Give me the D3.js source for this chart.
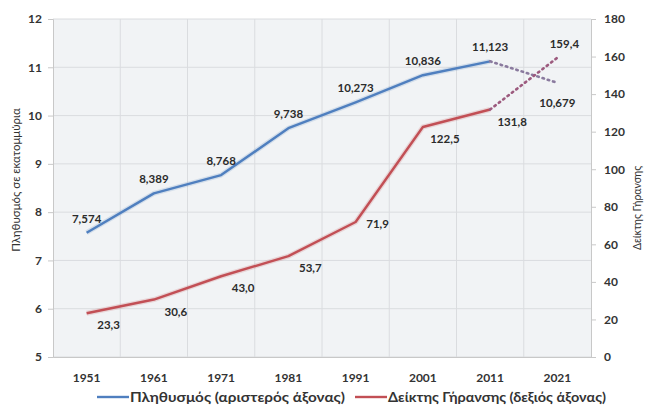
<!DOCTYPE html>
<html>
<head>
<meta charset="utf-8">
<script src="https://cdn.jsdelivr.net/npm/d3@7"></script>
<style>
  body { margin: 0; background: #fff; }
  text { font-family: Lato, "Open Sans", sans-serif; }
</style>
</head>
<body>
<div id="chart"></div>
<script>
// Data
const years = ["1951", "1961", "1971", "1981", "1991", "2001", "2011", "2021"];
const population = [7.574, 8.389, 8.768, 9.738, 10.273, 10.836, 11.123, 10.679];
const agingIndex = [23.3, 30.6, 43.0, 53.7, 71.9, 122.5, 131.8, 159.4];
const leftTicks = [5, 6, 7, 8, 9, 10, 11, 12];
const rightTicks = [0, 20, 40, 60, 80, 100, 120, 140, 160, 180];
const legendLabels = ["Πληθυσμός (αριστερός άξονας)", "Δείκτης Γήρανσης (δεξιός άξονας)"];
const leftTitle = "Πληθυσμός σε εκατομμύρια";
const rightTitle = "Δείκτης Γήρανσης";

const width = 648, height = 408;
const plot = { left: 53, right: 591, top: 19, bottom: 357 };

const svg = d3.select("#chart").append("svg")
    .attr("width", width)
    .attr("height", height);

// Scales
const x = d3.scaleBand().domain(years).range([plot.left, plot.right]);
const yL = d3.scaleLinear().domain([5, 12]).range([plot.bottom, plot.top]);
const yR = d3.scaleLinear().domain([0, 180]).range([plot.bottom, plot.top]);
const cx = d => x(d) + x.bandwidth() / 2;

// Plot background
svg.append("rect")
    .attr("x", plot.left).attr("y", plot.top)
    .attr("width", plot.right - plot.left)
    .attr("height", plot.bottom - plot.top)
    .attr("fill", "#f1f3f5");

// Horizontal gridlines
svg.append("g").selectAll("line")
    .data(leftTicks)
    .join("line")
    .attr("x1", plot.left).attr("x2", plot.right)
    .attr("y1", d => yL(d)).attr("y2", d => yL(d))
    .attr("stroke", "#dadcdf").attr("stroke-width", 1);

// Vertical gridlines between categories
svg.append("g").selectAll("line")
    .data(years.slice(1))
    .join("line")
    .attr("x1", d => x(d)).attr("x2", d => x(d))
    .attr("y1", plot.top).attr("y2", plot.bottom)
    .attr("stroke", "#dadcdf").attr("stroke-width", 1);

// Axes
const axisLeft = d3.axisLeft(yL).tickValues(leftTicks).tickFormat(d3.format("d")).tickSize(5).tickPadding(6);
const axisRight = d3.axisRight(yR).tickValues(rightTicks).tickSize(5).tickPadding(8);
const axisBottom = d3.axisBottom(x).tickSize(0).tickPadding(16);

function styleAxis(g) {
    g.select(".domain").attr("stroke", "#c8c8c8");
    g.selectAll(".tick line").attr("stroke", "#c8c8c8");
    g.selectAll(".tick text")
        .attr("fill", "#333")
        .style("font-size", "12px")
        .style("font-weight", "bold");
}

svg.append("g").attr("transform", `translate(${plot.left},0)`).call(axisLeft).call(styleAxis);
svg.append("g").attr("transform", `translate(${plot.right},0)`).call(axisRight).call(styleAxis);
svg.append("g").attr("transform", `translate(0,${plot.bottom})`).call(axisBottom).call(styleAxis);

// Axis titles
svg.append("text")
    .attr("transform", `translate(20,${(plot.top + plot.bottom) / 2 - 8}) rotate(-90)`)
    .attr("text-anchor", "middle")
    .attr("fill", "#333")
    .style("font-size", "11.5px")
    .text(leftTitle);

svg.append("text")
    .attr("transform", `translate(641,${(plot.top + plot.bottom) / 2 + 20}) rotate(-90)`)
    .attr("text-anchor", "middle")
    .attr("fill", "#333")
    .style("font-size", "10.5px")
    .text(rightTitle);

// Lines: solid up to 2011, dotted projection to 2021
const last = years.length - 1;
const popLine = d3.line().x((d, i) => cx(years[i])).y(d => yL(d));
const ageLine = d3.line().x((d, i) => cx(years[i])).y(d => yR(d));

function drawSeries(values, line, color, dotColor, yScale) {
    svg.append("path")
        .datum(values.slice(0, last))
        .attr("d", line)
        .attr("fill", "none")
        .attr("stroke", color)
        .attr("stroke-width", 5)
        .attr("stroke-opacity", 0.18)
        .attr("stroke-linejoin", "round");
    svg.append("path")
        .datum(values.slice(0, last))
        .attr("d", line)
        .attr("fill", "none")
        .attr("stroke", color)
        .attr("stroke-width", 2.4)
        .attr("stroke-linejoin", "round");
    svg.append("line")
        .attr("x1", cx(years[last - 1])).attr("y1", yScale(values[last - 1]))
        .attr("x2", cx(years[last])).attr("y2", yScale(values[last]))
        .attr("stroke", dotColor)
        .attr("stroke-width", 2.6)
        .attr("stroke-dasharray", "1.5,4")
        .attr("stroke-linecap", "round");
}

drawSeries(population, popLine, "#4f7fbf", "#8a7a9e", yL);
drawSeries(agingIndex, ageLine, "#c24f55", "#9c5a7e", yR);

// Data labels
const fmtPop = d => d3.format(".3f")(d).replace(".", ",");
const fmtAge = d => d3.format(".1f")(d).replace(".", ",");

svg.append("g").selectAll("text")
    .data(population)
    .join("text")
    .attr("x", (d, i) => cx(years[i]))
    .attr("y", (d, i) => yL(d) + (i === last ? 24 : -10))
    .attr("text-anchor", "middle")
    .attr("fill", "#2b2b2b")
    .style("font-size", "11.5px")
    .style("font-weight", "bold")
    .text(fmtPop);

svg.append("g").selectAll("text")
    .data(agingIndex)
    .join("text")
    .attr("x", (d, i) => cx(years[i]) + (i === last ? 7 : 22))
    .attr("y", (d, i) => yR(d) + (i === last ? -10 : (i === 4 ? 6 : 16)))
    .attr("text-anchor", "middle")
    .attr("fill", "#2b2b2b")
    .style("font-size", "11.5px")
    .style("font-weight", "bold")
    .text(fmtAge);

// Legend
const legend = svg.append("g").attr("transform", "translate(0,397)");
const legendColors = ["#4f7fbf", "#c24f55"];
const legendX = [97, 355];
const legendTextW = [215, 218];
legendLabels.forEach((label, i) => {
    const g = legend.append("g").attr("transform", `translate(${legendX[i]},0)`);
    g.append("line")
        .attr("x1", 0).attr("x2", 32)
        .attr("y1", 0).attr("y2", 0)
        .attr("stroke", legendColors[i])
        .attr("stroke-width", 2.4);
    g.append("text")
        .attr("x", 33).attr("y", 4.5)
        .attr("fill", "#333")
        .attr("textLength", legendTextW[i])
        .attr("lengthAdjust", "spacingAndGlyphs")
        .style("font-size", "13px")
        .style("font-weight", "bold")
        .text(label);
});
</script>
</body>
</html>
